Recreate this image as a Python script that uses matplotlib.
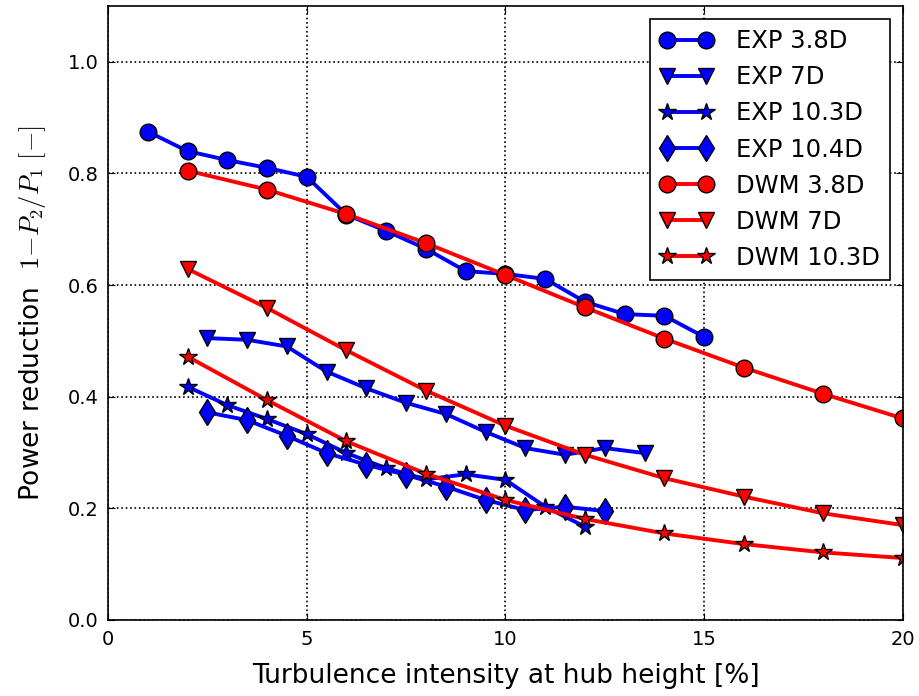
import matplotlib.pyplot as plt

plt.rcParams['mathtext.fontset'] = 'cm'

# EXP measurements
exp38_x = [1, 2, 3, 4, 5, 6, 7, 8, 9, 10, 11, 12, 13, 14, 15]
exp38_y = [0.875, 0.840, 0.824, 0.810, 0.794, 0.726, 0.697, 0.665, 0.625, 0.620, 0.611, 0.570, 0.548, 0.545, 0.507]

exp7_x = [2.5, 3.5, 4.5, 5.5, 6.5, 7.5, 8.5, 9.5, 10.5, 11.5, 12.5, 13.5]
exp7_y = [0.505, 0.502, 0.490, 0.445, 0.415, 0.389, 0.369, 0.337, 0.308, 0.296, 0.308, 0.299]

exp103_x = [2, 3, 4, 5, 6, 7, 8, 9, 10, 11, 12]
exp103_y = [0.418, 0.385, 0.360, 0.333, 0.299, 0.272, 0.252, 0.261, 0.251, 0.203, 0.167]

exp104_x = [2.5, 3.5, 4.5, 5.5, 6.5, 7.5, 8.5, 9.5, 10.5, 11.5, 12.5]
exp104_y = [0.372, 0.358, 0.330, 0.299, 0.278, 0.260, 0.239, 0.215, 0.197, 0.203, 0.195]

# DWM model
dwm_x = [2, 4, 6, 8, 10, 12, 14, 16, 18, 20]
dwm38_y = [0.805, 0.771, 0.727, 0.675, 0.618, 0.560, 0.504, 0.452, 0.405, 0.361]
dwm7_y = [0.629, 0.559, 0.483, 0.411, 0.348, 0.296, 0.254, 0.221, 0.191, 0.170]
dwm103_y = [0.472, 0.394, 0.320, 0.262, 0.215, 0.181, 0.155, 0.136, 0.121, 0.111]

fig = plt.figure(figsize=(9.2, 6.96), dpi=100)
ax = fig.add_axes([0.1174, 0.1092, 0.8641, 0.8822])

kw = dict(lw=2.8, mec='black', mew=1.0)
ax.plot(exp38_x, exp38_y, 'o-', color='blue', ms=12, label='EXP 3.8D', **kw)
ax.plot(exp7_x, exp7_y, 'v-', color='blue', ms=12, label='EXP 7D', **kw)
ax.plot(exp103_x, exp103_y, '*-', color='blue', ms=13, label='EXP 10.3D', **kw)
ax.plot(exp104_x, exp104_y, 'd-', color='blue', ms=13, label='EXP 10.4D', **kw)
ax.plot(dwm_x, dwm38_y, 'o-', color='red', ms=12, label='DWM 3.8D', **kw)
ax.plot(dwm_x, dwm7_y, 'v-', color='red', ms=12, label='DWM 7D', **kw)
ax.plot(dwm_x, dwm103_y, '*-', color='red', ms=13, label='DWM 10.3D', **kw)

ax.set_xlim(0, 20)
ax.set_ylim(0, 1.1)
ax.set_xticks([0, 5, 10, 15, 20])
ax.set_yticks([0.0, 0.2, 0.4, 0.6, 0.8, 1.0])
ax.set_yticklabels(['0.0', '0.2', '0.4', '0.6', '0.8', '1.0'])
ax.tick_params(direction='in', top=True, right=True, length=5, labelsize=14, pad=7)
ax.grid(True, color='black', linestyle=':', lw=1.2)
for s in ax.spines.values():
    s.set_linewidth(1.2)

ax.set_xlabel('Turbulence intensity at hub height [%]', fontsize=19, labelpad=10)
ax.set_ylabel(r'Power reduction  $1{-}P_2/P_1\ [\mathrm{-}]$', fontsize=19, labelpad=14)

leg = ax.legend(loc='upper right', numpoints=2, fontsize=17.5, fancybox=False,
                framealpha=1, edgecolor='black', handlelength=2.2,
                handletextpad=0.95, borderpad=0.4, labelspacing=0.5,
                borderaxespad=0.55)
leg.get_frame().set_linewidth(1.2)

plt.savefig('out.png', dpi=100)
